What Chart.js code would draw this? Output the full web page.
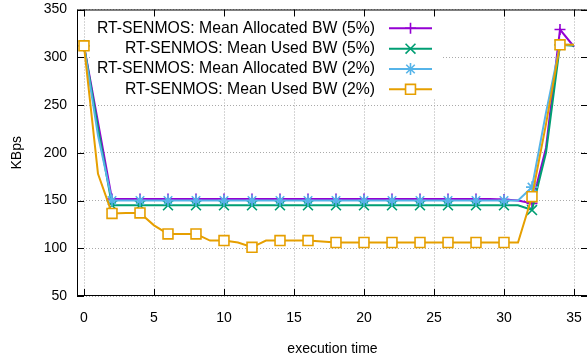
<!DOCTYPE html>
<html>
<head>
<meta charset="utf-8">
<script src="https://cdn.jsdelivr.net/npm/chart.js@4.4.1/dist/chart.umd.min.js"></script>
<style>
  html, body { margin: 0; padding: 0; background: #fff; overflow: hidden; }
  #wrap { width: 587px; height: 362px; overflow: hidden; position: relative; }
  canvas { display: block; }
</style>
</head>
<body>
<div id="wrap"><canvas id="bwChart" width="600" height="362"></canvas></div>
<script>
// execution time steps
const execTime = [0, 1, 2, 3, 4, 5, 6, 7, 8, 9, 10, 11, 12, 13, 14, 15, 16, 17,
  18, 19, 20, 21, 22, 23, 24, 25, 26, 27, 28, 29, 30, 31, 32, 33, 34, 35];

const allocBw5 = [312, 232, 151.5, 151.5, 151.5, 151.5, 151.5, 151.5, 151.5, 151.5, 151.5, 151.5,
  151.5, 151.5, 151.5, 151.5, 151.5, 151.5, 151.5, 151.5, 151.5, 151.5, 151.5, 151.5, 151.5, 151.5,
  151.5, 151.5, 151.5, 151.5, 151, 150, 147, 205, 329, 311];
const usedBw5 = [312, 226, 145, 145, 145, 145, 145, 145, 145, 145, 145, 145, 145, 145, 145, 145,
  145, 145, 145, 145, 145, 145, 145, 145, 145, 145, 145, 145, 145, 145, 145, 145, 140, 200, 313, 312];
const allocBw2 = [312, 218, 150, 150, 150, 150, 150, 150, 150, 150, 150, 150, 150, 150, 150, 150,
  150, 150, 150, 150, 150, 150, 150, 150, 150, 150, 150, 150, 150, 150, 150, 150, 164, 242, 313, 313];
const usedBw2 = [312, 178, 136.5, 137, 137, 124, 115, 115, 115, 108, 108, 106, 101, 108, 108, 108,
  108, 107, 106, 106, 106, 106, 106, 106, 106, 106, 106, 106, 106, 106, 106, 106, 154, 230, 313, 313];

const seriesNames = [
  "RT-SENMOS: Mean Allocated BW (5%)",
  "RT-SENMOS: Mean Used BW (5%)",
  "RT-SENMOS: Mean Allocated BW (2%)",
  "RT-SENMOS: Mean Used BW (2%)"
];
const xTicks = [0, 5, 10, 15, 20, 25, 30, 35];
const yTicks = [50, 100, 150, 200, 250, 300, 350];

const FONT = "'Liberation Sans', Arial, Helvetica, sans-serif";
Chart.defaults.font.family = FONT;
Chart.defaults.font.size = 14;
Chart.defaults.color = "#000";

const toPoints = (ys) => ys.map((y, i) => ({ x: execTime[i], y: y }));
// gnuplot style: markers only on every 2nd sample
const everyOther = (r) => (ctx) => (ctx.dataIndex % 2 === 0 ? r : 0);

function makeSet(label, ys, color, style, radius, order, fill) {
  return {
    label: label,
    data: toPoints(ys),
    borderColor: color,
    backgroundColor: fill || color,
    borderWidth: 2,
    pointStyle: style,
    pointRadius: everyOther(radius),
    pointBorderWidth: 1.6,
    pointBorderColor: color,
    pointBackgroundColor: fill || color,
    pointHoverRadius: 0,
    tension: 0,
    order: order,
    _legendR: radius
  };
}

function drawMarker(ctx, style, x, y, r) {
  ctx.beginPath();
  if (style === "cross" || style === "star") {
    ctx.moveTo(x - r, y); ctx.lineTo(x + r, y);
    ctx.moveTo(x, y - r); ctx.lineTo(x, y + r);
  }
  if (style === "crossRot" || style === "star") {
    const d = r * Math.SQRT1_2;
    ctx.moveTo(x - d, y - d); ctx.lineTo(x + d, y + d);
    ctx.moveTo(x - d, y + d); ctx.lineTo(x + d, y - d);
  }
  if (style === "rect") {
    const s = r * Math.SQRT1_2;
    ctx.fillStyle = "#fff";
    ctx.rect(x - s, y - s, 2 * s, 2 * s);
    ctx.fill();
  }
  ctx.stroke();
}

const gnuplotLook = {
  id: "gnuplotLook",
  beforeDatasetsDraw(chart) {
    const ctx = chart.ctx;
    ctx.save();
    // opaque key
    ctx.fillStyle = "#fff";
    ctx.fillRect(90, 13, 351, 86);
    ctx.font = "15.75px " + FONT;
    ctx.textAlign = "right";
    ctx.textBaseline = "middle";
    chart.data.datasets.forEach((ds, i) => {
      const y = 28.3 + i * 20.35;
      ctx.fillStyle = "#000";
      ctx.fillText(ds.label, 375, y);
      ctx.strokeStyle = ds.borderColor;
      ctx.lineWidth = 2;
      ctx.beginPath();
      ctx.moveTo(389, y); ctx.lineTo(432, y);
      ctx.stroke();
      ctx.lineWidth = 1.6;
      drawMarker(ctx, ds.pointStyle, 410.5, y, ds._legendR);
    });
    ctx.restore();
  },
  afterDraw(chart) {
    const ctx = chart.ctx;
    const a = chart.chartArea;
    const xs = chart.scales.x, ys = chart.scales.y;
    ctx.save();
    ctx.strokeStyle = "#000";
    ctx.lineWidth = 1;
    ctx.strokeRect(a.left + 0.5, a.top + 0.5, a.right - a.left - 1, a.bottom - a.top - 1);
    ctx.beginPath();
    xTicks.forEach((v) => {
      const px = Math.round(xs.getPixelForValue(v)) + 0.5;
      ctx.moveTo(px, a.bottom); ctx.lineTo(px, a.bottom - 7);
      ctx.moveTo(px, a.top); ctx.lineTo(px, a.top + 7);
    });
    yTicks.forEach((v) => {
      const py = Math.round(ys.getPixelForValue(v)) + 0.5;
      ctx.moveTo(a.left, py); ctx.lineTo(a.left + 7, py);
      ctx.moveTo(a.right, py); ctx.lineTo(a.right - 7, py);
    });
    ctx.stroke();
    ctx.restore();
  }
};

const datasets = [
  makeSet(seriesNames[0], allocBw5, "#9400D3", "cross", 5.5, 3),
  makeSet(seriesNames[1], usedBw5, "#009E73", "crossRot", 7, 2),
  makeSet(seriesNames[2], allocBw2, "#56B4E9", "star", 6, 1),
  makeSet(seriesNames[3], usedBw2, "#E69F00", "rect", 7, 0, "#fff")
];

const zeroPad = (s) => { s.paddingTop = 0; s.paddingBottom = 0; s.paddingLeft = 0; s.paddingRight = 0; };

new Chart(document.getElementById("bwChart"), {
  type: "line",
  data: { datasets: datasets },
  options: {
    responsive: false,
    animation: false,
    devicePixelRatio: 1,
    layout: { padding: { top: 9.5, right: 12, left: 0, bottom: 0 } },
    plugins: {
      legend: { display: false },
      tooltip: { enabled: false }
    },
    scales: {
      x: {
        type: "linear",
        min: -0.5,
        max: 36,
        afterBuildTicks: (s) => { s.ticks = xTicks.map((v) => ({ value: v })); },
        afterFit: (s) => { s.height = 66; zeroPad(s); },
        grid: { color: "#aaaaaa", lineWidth: 1, drawTicks: false },
        border: { display: false, dash: [1, 2] },
        ticks: { padding: 14, color: "#000", font: { size: 14 }, maxRotation: 0 },
        title: { display: true, text: "execution time", color: "#000", font: { size: 14 }, padding: { top: 0, bottom: 4 } }
      },
      y: {
        min: 50,
        max: 350,
        afterBuildTicks: (s) => { s.ticks = yTicks.map((v) => ({ value: v })); },
        afterFit: (s) => { s.width = 77; zeroPad(s); },
        grid: { color: "#aaaaaa", lineWidth: 1, drawTicks: false },
        border: { display: false, dash: [1, 2] },
        ticks: { padding: 10, color: "#000", font: { size: 14 } },
        title: { display: true, text: "KBps", color: "#000", font: { size: 14 }, padding: { top: 9, bottom: 0 } }
      }
    }
  },
  plugins: [gnuplotLook]
});
</script>
</body>
</html>
